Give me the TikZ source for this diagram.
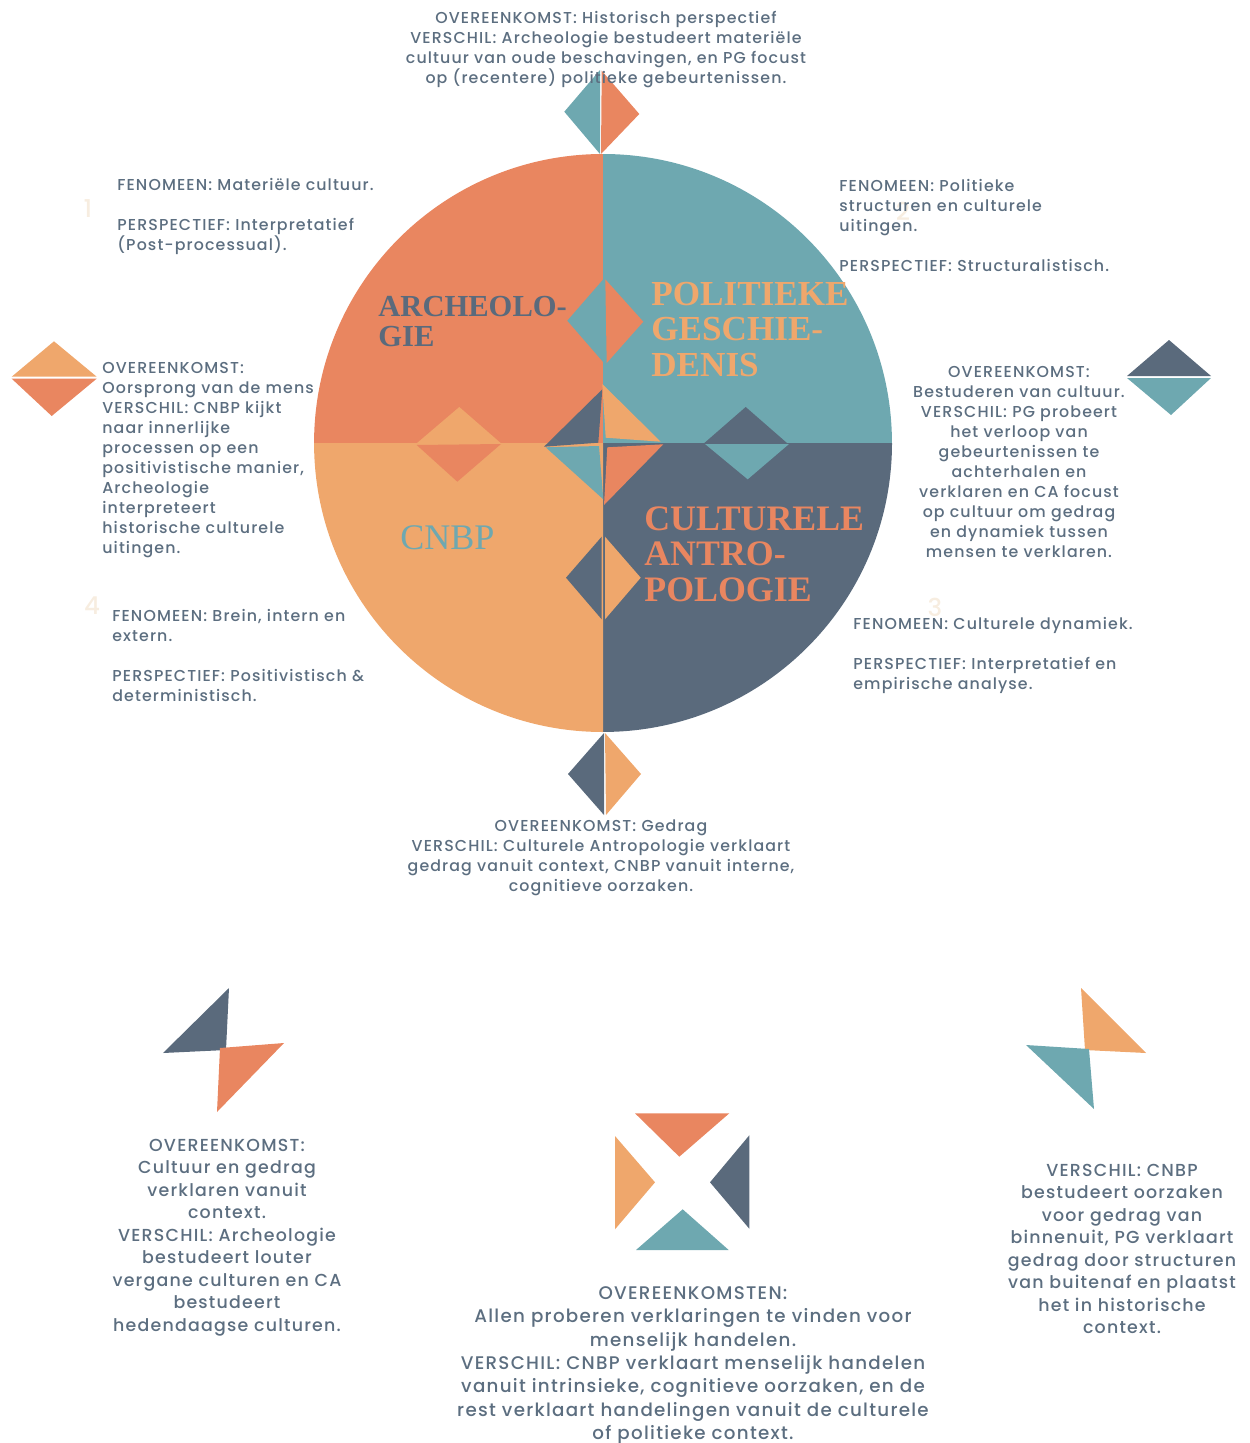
\documentclass[tikz,border=0pt]{standalone}
\usepackage{xcolor}
\usepackage{fontspec}
\usepackage{tikz}
\setmainfont{Poppins Medium}[LetterSpace=7]
\newfontfamily\titelfont{Liberation Serif}
\definecolor{koraal}{HTML}{E98660}
\definecolor{blauwgroen}{HTML}{6EA8B0}
\definecolor{leisteen}{HTML}{5A6A7C}
\definecolor{zand}{HTML}{EFA76C}
\definecolor{tekstkleur}{HTML}{5C6E80}
\definecolor{bleek}{HTML}{F7EDE0}
\tikzset{
    tekst/.style={text=tekstkleur, inner sep=0pt, font=\fontsize{9}{11.38}\selectfont, align=left},
    tekstmidden/.style={tekst, align=center},
    tekstgroot/.style={tekst, align=center, font=\fontsize{9.9}{12.8}\selectfont},
    titel/.style={inner sep=0pt, align=left, font=\titelfont\bfseries\fontsize{20}{20.2}\selectfont},
    nummer/.style={inner sep=0pt, text=bleek, font=\fontsize{14}{14}\selectfont},
}
\begin{document}
\begin{tikzpicture}[x=0.02cm,y=-0.02cm]
    \useasboundingbox (0,0) rectangle (1250,1443);

    % Cirkel
    \fill[koraal] (603,443) -- (603,154) arc[start angle=90, end angle=180, radius=5.78cm] -- cycle;
    \fill[blauwgroen] (603,443) -- (603,154) arc[start angle=90, end angle=0, radius=5.78cm] -- cycle;
    \fill[leisteen] (603,443) -- (892,443) arc[start angle=0, end angle=-90, radius=5.78cm] -- cycle;
    \fill[zand] (603,443) -- (603,732) arc[start angle=-90, end angle=-180, radius=5.78cm] -- cycle;

    % Ruiten binnen de cirkel
    \fill[blauwgroen] (603.3,279.3) -- (567.3,320.7) -- (604,363) -- cycle;
    \fill[koraal] (605.3,279.3) -- (643.3,321.7) -- (606.7,363) -- cycle;
    \fill[zand] (459.3,407) -- (416.7,443.3) -- (501,443.3) -- cycle;
    \fill[koraal] (416.7,445) -- (501,444) -- (457.3,481.7) -- cycle;
    \fill[leisteen] (745.7,407) -- (704,443.3) -- (787.3,443.3) -- cycle;
    \fill[blauwgroen] (705,444) -- (789,444) -- (747.7,479.3) -- cycle;
    \fill[leisteen] (601.7,536.7) -- (566,577.7) -- (601.7,619.3) -- cycle;
    \fill[zand] (605,536.7) -- (640.7,577.7) -- (605,619.3) -- cycle;

    % Ster in het midden
    \fill[leisteen] (602.3,389.3) -- (544,446.7) -- (598.3,442.7) -- cycle;
    \fill[zand] (602.3,384) -- (660.7,441.7) -- (605.7,437.7) -- cycle;
    \fill[blauwgroen] (545.7,447.3) -- (603.3,499.3) -- (599,446) -- cycle;
    \fill[koraal] (663.3,444.3) -- (604,505) -- (607.3,447.3) -- cycle;

    % Ruiten rond de cirkel
    \fill[blauwgroen] (600,70) -- (564.3,111.7) -- (600,154) -- cycle;
    \fill[koraal] (601.7,70.7) -- (639.3,114) -- (601,154) -- cycle;
    \fill[leisteen] (604,733) -- (568,774) -- (604,815) -- cycle;
    \fill[zand] (605,733) -- (641,774) -- (606,815) -- cycle;
    \fill[zand] (54,341.3) -- (11.7,376.7) -- (96.7,376.7) -- cycle;
    \fill[koraal] (11.7,378.7) -- (96.7,378.7) -- (51.7,416) -- cycle;
    \fill[leisteen] (1169,340) -- (1127,376) -- (1211,376) -- cycle;
    \fill[blauwgroen] (1127,378) -- (1211,378) -- (1171,415) -- cycle;

    % Figuren onderaan
    \fill[leisteen] (229,988) -- (163,1053) -- (226,1050) -- cycle;
    \fill[koraal] (284,1043) -- (217,1112) -- (220,1048) -- cycle;
    \fill[zand] (1081,988) -- (1146,1053) -- (1085,1050) -- cycle;
    \fill[blauwgroen] (1026,1045) -- (1094,1109) -- (1089,1049) -- cycle;
    \fill[koraal] (635,1113.3) -- (729.3,1113.3) -- (679.3,1156.7) -- cycle;
    \fill[zand] (615,1136) -- (655,1182.3) -- (615,1229.3) -- cycle;
    \fill[leisteen] (749.3,1135.3) -- (710,1182.3) -- (749.3,1228.7) -- cycle;
    \fill[blauwgroen] (682.7,1209.3) -- (636,1250) -- (728.7,1250) -- cycle;

    % Titels
    \node (archeologie) at (378,321.5) [titel, anchor=west, text=leisteen, font=\titelfont\bfseries\fontsize{17.4}{17.6}\selectfont] {ARCHEOLO-\\GIE};
    \node (politiek) at (651,329.5) [titel, anchor=west, text=zand] {POLITIEKE\\GESCHIE-\\DENIS};
    \node (antropologie) at (644,554) [titel, anchor=west, text=koraal, font=\titelfont\bfseries\fontsize{20.4}{20.2}\selectfont] {CULTURELE\\ANTRO-\\POLOGIE};
    \node (cnbp) at (400,538) [anchor=west, inner sep=0pt, text=blauwgroen, font=\titelfont\fontsize{20.5}{20.5}\selectfont] {CNBP};

    % Nummers
    \node (nummer1) at (88,209) [nummer] {1};
    \node (nummer2) at (903,211) [nummer] {2};
    \node (nummer3) at (935,607) [nummer] {3};
    \node (nummer4) at (92,606) [nummer] {4};

    % Fenomeen en perspectief
    \node (fenomeen1) at (117,216.5) [tekst, anchor=west] {FENOMEEN: Materiële cultuur.\\[\baselineskip]PERSPECTIEF: Interpretatief\\(Post-processual).};
    \node (fenomeen2) at (839,225) [tekst, anchor=west] {FENOMEEN: Politieke\\structuren en culturele\\uitingen.\\[\baselineskip]PERSPECTIEF: Structuralistisch.};
    \node (fenomeen3) at (853,655) [tekst, anchor=west] {FENOMEEN: Culturele dynamiek.\\[\baselineskip]PERSPECTIEF: Interpretatief en\\empirische analyse.};
    \node (fenomeen4) at (112,655) [tekst, anchor=west] {FENOMEEN: Brein, intern en\\extern.\\[\baselineskip]PERSPECTIEF: Positivistisch \&\\deterministisch.};

    % Overeenkomsten rond de cirkel
    \node (boven) at (606,50) [tekstmidden] {OVEREENKOMST: Historisch perspectief\\VERSCHIL: Archeologie bestudeert materiële\\cultuur van oude beschavingen, en PG focust\\op (recentere) politieke gebeurtenissen.};
    \node (links) at (102,460) [tekst, anchor=west] {OVEREENKOMST:\\Oorsprong van de mens\\VERSCHIL: CNBP kijkt\\naar innerlijke\\processen op een\\positivistische manier,\\Archeologie\\interpreteert\\historische culturele\\uitingen.};
    \node (rechts) at (1019,462) [tekstmidden] {OVEREENKOMST:\\Bestuderen van cultuur.\\VERSCHIL: PG probeert\\het verloop van\\gebeurtenissen te\\achterhalen en\\verklaren en CA focust\\op cultuur om gedrag\\en dynamiek tussen\\mensen te verklaren.};
    \node (onder) at (601,858) [tekstmidden] {OVEREENKOMST: Gedrag\\VERSCHIL: Culturele Antropologie verklaart\\gedrag vanuit context, CNBP vanuit interne,\\cognitieve oorzaken.};

    % Teksten onderaan
    \node (diagonaal1) at (227,1237.5) [tekstgroot] {OVEREENKOMST:\\Cultuur en gedrag\\verklaren vanuit\\context.\\VERSCHIL: Archeologie\\bestudeert louter\\vergane culturen en CA\\bestudeert\\hedendaagse culturen.};
    \node (diagonaal2) at (1122,1249) [tekstgroot] {VERSCHIL: CNBP\\bestudeert oorzaken\\voor gedrag van\\binnenuit, PG verklaart\\gedrag door structuren\\van buitenaf en plaatst\\het in historische\\context.};
    \node (allen) at (693,1365.5) [tekstgroot, font=\fontsize{10.4}{13.25}\selectfont] {OVEREENKOMSTEN:\\Allen proberen verklaringen te vinden voor\\menselijk handelen.\\VERSCHIL: CNBP verklaart menselijk handelen\\vanuit intrinsieke, cognitieve oorzaken, en de\\rest verklaart handelingen vanuit de culturele\\of politieke context.};
\end{tikzpicture}
\end{document}
